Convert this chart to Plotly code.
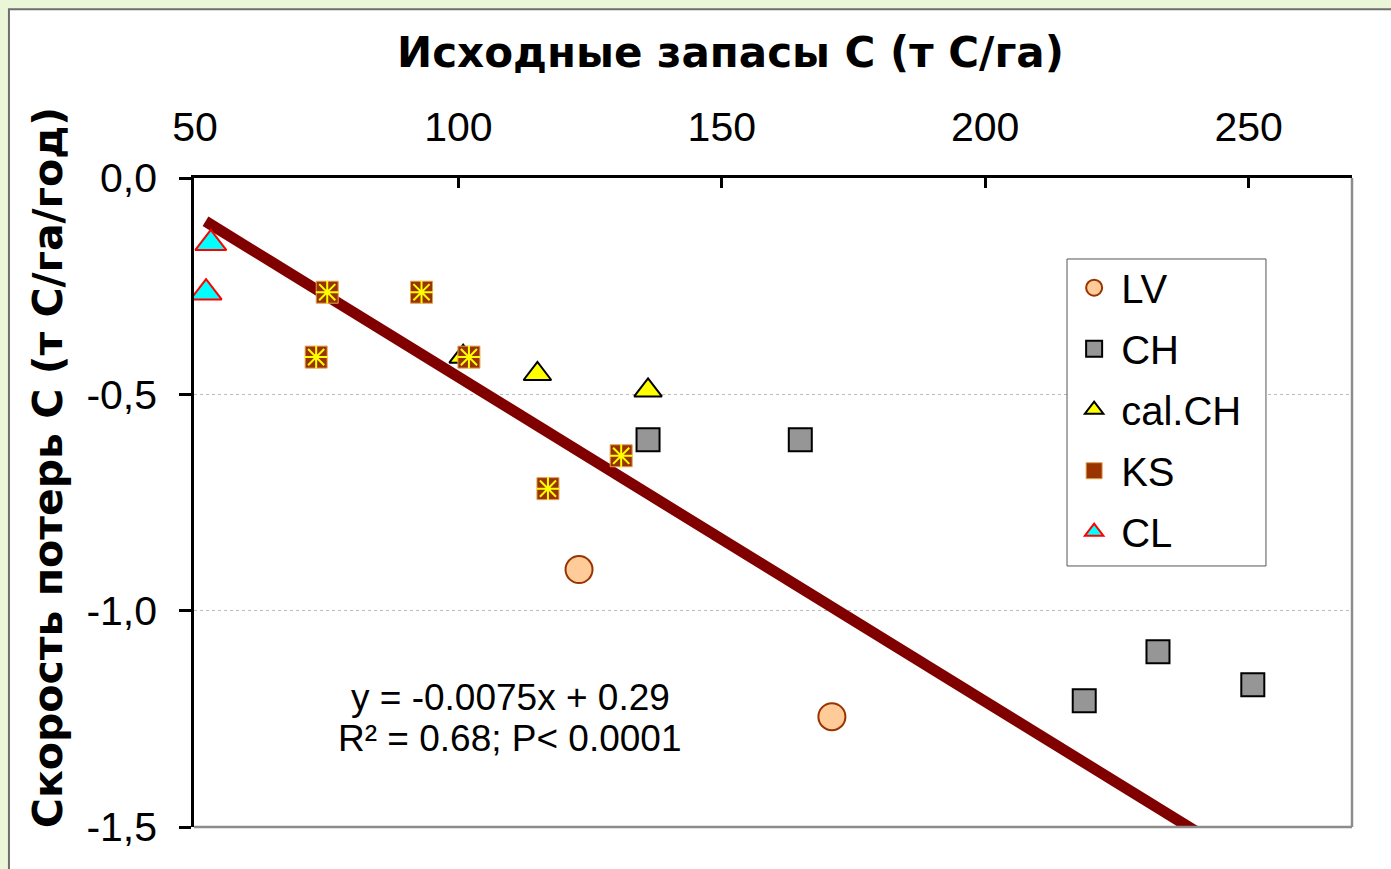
import plotly.graph_objects as go

# ---- data ----
LV_x = [122.9, 170.9]
LV_y = [-0.905, -1.245]
CH_x = [136.0, 164.9, 218.8, 232.8, 250.8]
CH_y = [-0.605, -0.605, -1.208, -1.095, -1.171]
calCH_x = [100.9, 115.0, 136.0]
calCH_y = [-0.413, -0.453, -0.491]
KS_x = [75.1, 73.0, 93.0, 102.0, 117.0, 130.9]
KS_y = [-0.264, -0.414, -0.264, -0.414, -0.718, -0.642]
CL_x = [53.0, 52.1]
CL_y = [-0.151, -0.265]

trend_slope = -0.0075
trend_intercept = 0.29
trend_x = [52.0, 242.0]
trend_y = [trend_slope * v + trend_intercept for v in trend_x]

x_tickvals = [50, 100, 150, 200, 250]
y_tickvals = [0.0, -0.5, -1.0, -1.5]
y_ticktext = ["0,0", "-0,5", "-1,0", "-1,5"]

FONT = "Liberation Sans, Arial, sans-serif"
BOLD = "DejaVu Sans, Liberation Sans, sans-serif"

fig = go.Figure()

fig.add_trace(go.Scatter(x=trend_x, y=trend_y, mode="lines",
                         line=dict(color="#800000", width=11),
                         showlegend=False, hoverinfo="skip"))

fig.add_trace(go.Scatter(x=LV_x, y=LV_y, mode="markers", name="LV", legendgroup="a",
                         marker=dict(symbol="circle", size=27, color="#FFCC99",
                                     line=dict(color="#993300", width=2))))
fig.add_trace(go.Scatter(x=CH_x, y=CH_y, mode="markers", name="CH", legendgroup="b",
                         marker=dict(symbol="square", size=23, color="#969696",
                                     line=dict(color="#000000", width=2))))
fig.add_trace(go.Scatter(x=calCH_x, y=calCH_y, mode="markers", name="cal.CH", legendgroup="c",
                         marker=dict(symbol="triangle-up", size=24, color="#FFFF00",
                                     line=dict(color="#000000", width=2))))
fig.add_trace(go.Scatter(x=KS_x, y=KS_y, mode="markers", name="KS", legendgroup="d",
                         marker=dict(symbol="square", size=22, color="#993300",
                                     line=dict(color="#E0A050", width=1))))
fig.add_trace(go.Scatter(x=KS_x, y=KS_y, mode="markers", name="KS", legendgroup="d",
                         showlegend=False,
                         marker=dict(symbol="asterisk-open", size=19, color="#FFFF00",
                                     line=dict(color="#FFFF00", width=2))))
fig.add_trace(go.Scatter(x=CL_x, y=CL_y, mode="markers", name="CL", legendgroup="e",
                         marker=dict(symbol="triangle-up", size=27, color="#00FFFF",
                                     line=dict(color="#FF0000", width=2))))

fig.update_layout(
    width=1391, height=869,
    margin=dict(l=194, r=39, t=178, b=42),
    paper_bgcolor="#EBF5D7",
    plot_bgcolor="white",
    font=dict(family=FONT, color="black"),
    showlegend=True,
    legend=dict(x=0.754, y=0.881, xanchor="left", yanchor="top",
                bgcolor="rgba(0,0,0,0)", borderwidth=0,
                font=dict(size=40, family=FONT), traceorder="grouped",
                tracegroupgap=6, itemwidth=44),
    xaxis=dict(range=[49.81, 269.63], side="top", tickvals=x_tickvals,
               ticks="inside", ticklen=10, tickwidth=2.5, tickcolor="black",
               showline=True, linecolor="black", linewidth=2.5,
               showgrid=False, zeroline=False,
               tickfont=dict(size=41, family=FONT), ticklabelstandoff=18),
    yaxis=dict(range=[-1.5, 0.0], tickvals=y_tickvals, ticktext=y_ticktext,
               ticks="outside", ticklen=12, tickwidth=2.5, tickcolor="black",
               showline=True, linecolor="black", linewidth=2.5,
               showgrid=True, gridcolor="#BBBBBB", griddash="dot", gridwidth=1,
               zeroline=False,
               tickfont=dict(size=41, family=FONT), ticklabelstandoff=14),
    shapes=[
        dict(type="rect", xref="paper", yref="paper", x0=-0.1598, x1=1.2, y0=-0.2, y1=1.260,
             fillcolor="white", line=dict(color="#6E6E6E", width=2), layer="below"),
        dict(type="line", xref="paper", yref="paper", x0=1, x1=1, y0=0, y1=1,
             line=dict(color="#8C8C8C", width=2.5), layer="above"),
        dict(type="line", xref="paper", yref="paper", x0=0, x1=1, y0=0, y1=0,
             line=dict(color="#8C8C8C", width=2.5), layer="above"),
        # legend box
        dict(type="rect", xref="paper", yref="paper", x0=0.7539, x1=0.9257,
             y0=0.4022, y1=0.8752, fillcolor="white",
             line=dict(color="#555555", width=1), layer="above"),
    ],
    annotations=[
        dict(text="<b>Исходные запасы С (т С/га)</b>", xref="paper", yref="paper",
             x=0.463, y=1.194, xanchor="center", yanchor="middle", showarrow=False,
             font=dict(size=42, family=BOLD)),
        dict(text="<b>Скорость потерь С (т С/га/год)</b>", xref="paper", yref="paper",
             x=-0.126, y=0.553, xanchor="center", yanchor="middle", showarrow=False,
             textangle=-90, font=dict(size=41, family=BOLD)),
        dict(text="y = -0.0075x + 0.29",
             xref="paper", yref="paper", x=0.273, y=0.2003, xanchor="center",
             yanchor="middle", showarrow=False, font=dict(size=37, family=FONT)),
        dict(text="R² = 0.68; P&lt; 0.0001",
             xref="paper", yref="paper", x=0.273, y=0.1371, xanchor="center",
             yanchor="middle", showarrow=False, font=dict(size=37, family=FONT)),
    ],
)

fig.write_html("out.html", config={"displayModeBar": False},
               post_script="document.body.style.margin='0';document.body.style.background='#EBF5D7';")
